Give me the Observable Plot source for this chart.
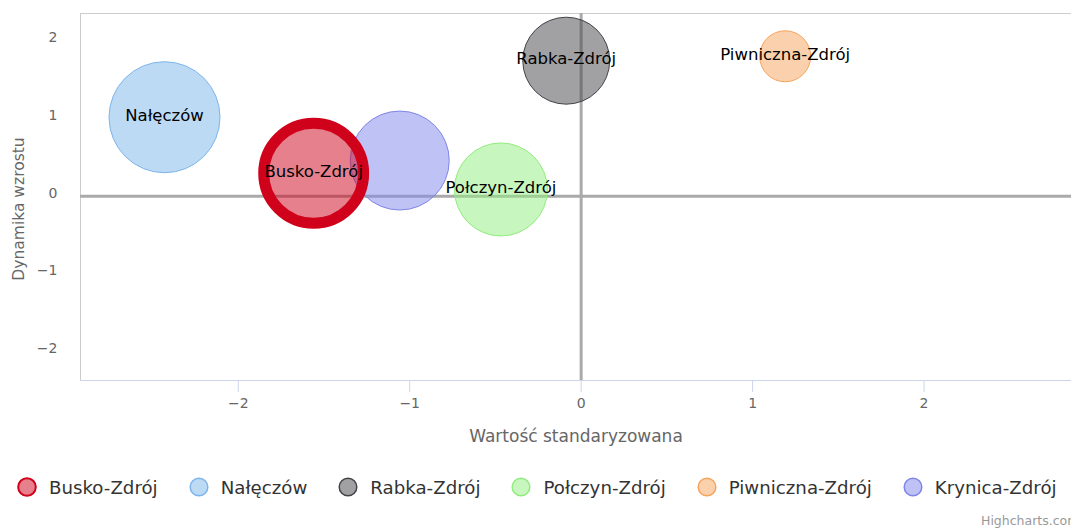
<!DOCTYPE html>
<html>
<head>
<meta charset="utf-8">
<script src="https://cdn.jsdelivr.net/npm/d3@7"></script>
<script src="https://cdn.jsdelivr.net/npm/@observablehq/plot@0.6"></script>
<style>
  html, body { margin: 0; padding: 0; background: #fff; }
  #wrap { position: relative; width: 1071px; height: 531px; overflow: hidden; font-family: "DejaVu Sans", sans-serif; }
  #legend { display: flex; align-items: center; height: 54px; padding-left: 17px; color: #333; font-size: 18.2px; }
  .item { display: flex; align-items: center; margin-right: 31px; white-space: nowrap; }
  .item svg { margin-right: 12px; }
  #credit { position: absolute; left: 981px; top: 513px; font-size: 12.5px; color: #999; white-space: nowrap; }
</style>
</head>
<body>
<div id="wrap">
  <div id="chart"></div>
  <div id="legend"></div>
  <div id="credit">Highcharts.com</div>
</div>
<script>
// Data
const names  = ["Busko-Zdrój", "Nałęczów", "Rabka-Zdrój", "Połczyn-Zdrój", "Piwniczna-Zdrój", "Krynica-Zdrój"];
const xs     = [-1.56, -2.43, -0.087, -0.468, 1.19, -1.058];
const ys     = [0.296, 1.016, 1.743, 0.087, 1.80, 0.459];
const zs     = [81, 100, 61.4, 70.2, 21.1, 79.5];
const colors = ["#d0021b", "#7cb5ec", "#434348", "#90ed7d", "#f7a35c", "#8085e9"];
// data labels that the reference shows (Krynica-Zdrój's is hidden by overlap there)
const labelShown = [true, true, true, true, true, false];
const xTicks = [-2, -1, 0, 1, 2];
const yTicks = [-2, -1, 0, 1, 2];
const xDomain = [-2.92, 2.86];
const yDomain = [-2.37, 2.35];
const xTitle = "Wartość standaryzowana";
const yTitle = "Dynamika wzrostu";
const highlighted = "Busko-Zdrój";

const rows = names.map((n, i) => ({name: n, x: xs[i], y: ys[i], z: zs[i], color: colors[i], shown: labelShown[i]}));
const otherRows = rows.filter(d => d.name !== highlighted);
const hiRows = rows.filter(d => d.name === highlighted);
const labelRows = rows.filter(d => d.shown);

const chart = Plot.plot({
  width: 1071,
  height: 460,
  marginLeft: 80,
  marginRight: 0,
  marginTop: 13,
  marginBottom: 80,
  style: {fontFamily: "DejaVu Sans, sans-serif", fontSize: "14px", background: "#fff"},
  x: {domain: xDomain},
  y: {domain: yDomain},
  r: {type: "sqrt", domain: [0, 100], range: [0, 55.5]},
  color: {type: "identity"},
  marks: [
    Plot.ruleY([yDomain[1]], {stroke: "#ccc", strokeWidth: 1}),
    Plot.ruleX([xDomain[0]], {stroke: "#ccc", strokeWidth: 1}),
    Plot.ruleY([0], {stroke: "#aaa", strokeWidth: 3}),
    Plot.ruleX([0], {stroke: "#aaa", strokeWidth: 3}),
    Plot.dot(otherRows, {x: "x", y: "y", r: "z", fill: "color", fillOpacity: 0.5, stroke: "color", strokeWidth: 1}),
    Plot.dot(hiRows, {x: "x", y: "y", r: "z", fill: "color", fillOpacity: 0.5, stroke: "color", strokeWidth: 11}),
    Plot.ruleY([yDomain[0]], {stroke: "#ccd6eb", strokeWidth: 1}),
    Plot.axisX({ticks: xTicks, tickFormat: "d", tickSize: 12, tickPadding: 6, stroke: "#ccd6eb", fill: "#666", fontSize: 14, label: null}),
    Plot.axisY({ticks: yTicks, tickFormat: "d", tickSize: 0, tickPadding: 23, fill: "#666", fontSize: 14, dy: -3, label: null}),
    Plot.text([xTitle], {frameAnchor: "bottom", lineAnchor: "middle", textAnchor: "middle", dy: 56, fill: "#666", fontSize: 17}),
    Plot.text([yTitle], {frameAnchor: "left", lineAnchor: "middle", textAnchor: "middle", rotate: -90, dx: -61, dy: 12, fill: "#666", fontSize: 15.5}),
    Plot.text(labelRows, {x: "x", y: "y", text: "name", fill: "#000", fontSize: 16.5, dy: -1.5})
  ]
});
document.getElementById("chart").appendChild(chart);

const legend = document.getElementById("legend");
rows.forEach(d => {
  const item = document.createElement("div");
  item.className = "item";
  const sw = d.name === highlighted ? 2 : 1.5;
  item.innerHTML = `<svg width="20" height="20"><circle cx="10" cy="10" r="8.8" fill="${d.color}" fill-opacity="0.5" stroke="${d.color}" stroke-width="${sw}"></circle></svg><span>${d.name}</span>`;
  legend.appendChild(item);
});
</script>
</body>
</html>
